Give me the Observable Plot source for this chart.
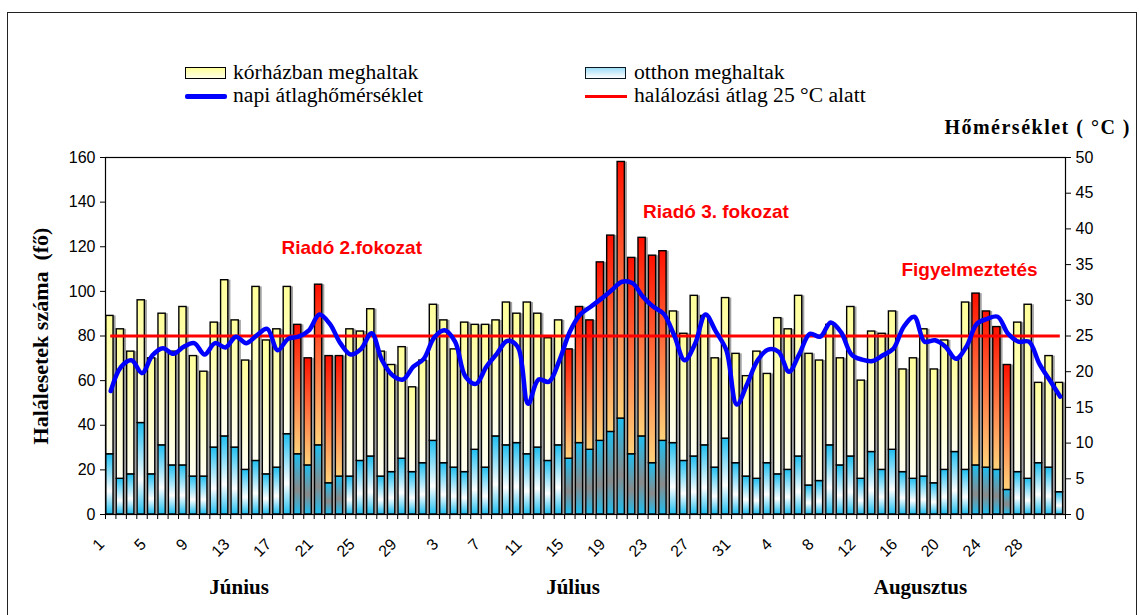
<!DOCTYPE html>
<html>
<head>
<meta charset="utf-8">
<script src="https://cdn.jsdelivr.net/npm/d3@7"></script>
<script src="https://cdn.jsdelivr.net/npm/@observablehq/plot@0.6"></script>
<style>
  body { margin: 0; background: #fff; }
  #wrap { position: relative; width: 1139px; height: 615px; overflow: hidden;
          font-family: "Liberation Serif", "Times New Roman", serif; color: #000; }
  #border { position: absolute; left: 7px; top: 12px; width: 1130px; height: 610px;
            border: 1.5px solid #222; box-sizing: border-box; pointer-events: none; }
  #head { position: relative; height: 140px; }
  .leg { position: absolute; font-size: 21.6px; line-height: 21px; white-space: nowrap; }
  .sw { position: absolute; box-sizing: border-box; }
  #rtitle { position: absolute; right: 8px; top: 117px; font-size: 20px; line-height: 20px;
            font-weight: bold; letter-spacing: 1.5px; white-space: nowrap; }
  #chart svg { display: block; }
</style>
</head>
<body>
<div id="wrap">
  <div id="head">
    <div class="sw" style="left:185px;top:67px;width:41px;height:12px;border:1.5px solid #000;background:linear-gradient(#ffff99,#ffffe6);"></div>
    <div class="leg" style="left:233px;top:62px;">kórházban meghaltak</div>
    <div class="sw" style="left:185px;top:94px;width:42px;height:4.5px;background:#0000ff;border-radius:2px;"></div>
    <div class="leg" style="left:233px;top:85px;">napi átlaghőmérséklet</div>
    <div class="sw" style="left:585px;top:67px;width:41px;height:12px;border:1.5px solid #0a1a24;background:linear-gradient(#9fdcf6,#ffffff);"></div>
    <div class="leg" style="left:634px;top:62px;">otthon meghaltak</div>
    <div class="sw" style="left:585px;top:95px;width:42px;height:3px;background:#ff0000;"></div>
    <div class="leg" style="left:634px;top:85px;">halálozási átlag 25 °C alatt</div>
    <div id="rtitle">Hőmérséklet ( °C )</div>
  </div>
  <div id="chart"></div>
  <div id="border"></div>
</div>
<script>
// ---- data (June 1 – August 31, one value per day) ----
const totalDeaths = [
  89, 83, 73, 96, 70, 90, 73, 93, 71, 64, 86, 105, 87, 69, 102, 78, 83, 102, 85, 70, 103, 71, 71, 83, 82, 92, 73, 67, 75, 57,
  69, 94, 87, 74, 86, 85, 85, 87, 95, 90, 95, 90, 79, 87, 74, 93, 87, 113, 125, 158, 115, 124, 116, 118, 91, 81, 98, 89, 70, 97, 72,
  62, 73, 63, 88, 83, 98, 72, 69, 85, 70, 93, 60, 82, 81, 91, 65, 70, 83, 65, 78, 70, 95, 99, 91, 84, 67, 86, 94, 59, 71, 59
];
const homeDeaths = [
  27, 16, 18, 41, 18, 31, 22, 22, 17, 17, 30, 35, 30, 20, 24, 18, 21, 36, 27, 22, 31, 14, 17, 17, 24, 26, 17, 19, 25, 19,
  23, 33, 23, 21, 19, 29, 21, 35, 31, 32, 27, 30, 24, 31, 25, 32, 29, 33, 37, 43, 27, 35, 23, 33, 32, 24, 26, 31, 21, 34, 23,
  17, 16, 23, 18, 20, 26, 13, 15, 31, 22, 26, 16, 28, 20, 29, 19, 16, 17, 14, 20, 28, 20, 22, 21, 20, 11, 19, 16, 23, 21, 10
];
const temperature = [
  17.3, 20.7, 21.6, 19.8, 22.3, 23.3, 22.5, 23.5, 24.0, 22.4, 24.0, 23.4, 24.9, 24.0, 25.1, 26.0, 23.0, 24.6, 24.9, 25.8,
  28.0, 26.7, 24.0, 22.4, 23.2, 25.4, 21.6, 19.5, 18.9, 20.7,
  21.8, 24.8, 25.8, 24.2, 19.3, 18.3, 20.7, 22.5, 24.3, 23.5, 15.5, 18.9, 18.6, 21.6, 25.6, 28.0, 29.1, 30.2, 31.4, 32.6,
  32.4, 30.5, 29.1, 28.1, 25.1, 21.6, 23.9, 28.0, 25.6, 23.0, 15.4,
  18.3, 21.6, 23.1, 22.8, 20.0, 22.5, 25.3, 24.9, 26.9, 25.5, 22.4, 21.7, 21.5, 22.3, 23.2, 26.3, 27.7, 24.2, 24.4, 23.5,
  21.8, 23.5, 26.7, 27.4, 27.7, 25.3, 24.2, 24.2, 21.1, 18.8, 16.5
];
// days on heat-alert (red bars): June 19–23, July 15–24, Aug 23–26 (day index 1..92)
const alertDays = [19, 20, 21, 22, 23, 45, 46, 47, 48, 49, 50, 51, 52, 53, 54, 84, 85, 86, 87];
const avgDeaths = 80;           // halálozási átlag 25 °C alatt
const labelDays = [1, 5, 9, 13, 17, 21, 25, 29, 33, 37, 41, 45, 49, 53, 57, 61, 65, 69, 73, 77, 81, 85, 89];
const tickLabels = ["1", "5", "9", "13", "17", "21", "25", "29", "3", "7", "11", "15", "19", "23", "27", "31", "4", "8", "12", "16", "20", "24", "28"];
const months = [
  {name: "Június", day: 13.3},
  {name: "Július", day: 45.3},
  {name: "Augusztus", day: 78.6}
];
const annotations = [
  {label: "Riadó 2.fokozat", day: 24.1, deaths: 119.5},
  {label: "Riadó 3. fokozat", day: 59.0, deaths: 135.5},
  {label: "Figyelmeztetés", day: 83.3, deaths: 109.5}
];
const yTitle = "Halálesetek száma  (fő)";

// ---- build ----
const days = d3.range(1, totalDeaths.length + 1);
const data = days.map((i, j) => ({
  i, total: totalDeaths[j], home: homeDeaths[j], temp: temperature[j], alert: alertDays.includes(i)
}));
const normal = data.filter(d => !d.alert);
const alert = data.filter(d => d.alert);
const k = 160 / 50; // right axis (°C) to left axis (deaths)
const dayTicks = labelDays.map((d, j) => ({day: d, label: tickLabels[j]}));

const barX = {x1: d => d.i - 0.5, x2: d => d.i + 0.5, insetLeft: 0.8, insetRight: 2.4};
const serif = "'Liberation Serif', 'Times New Roman', serif";
const sans = "'Liberation Sans', Arial, sans-serif";

const plot = Plot.plot({
  width: 1139,
  height: 475,
  marginTop: 17,
  marginBottom: 101,
  marginLeft: 105,
  marginRight: 74,
  x: {domain: [0.5, days.length + 0.5]},
  y: {domain: [0, 160]},
  style: {fontFamily: sans, fontSize: "16px", color: "#000", background: "transparent", overflow: "visible"},
  marks: [
    // bar shadows
    Plot.rectY(data, {...barX, y1: 0, y2: "total", dx: 2.6, fill: "#a2a2a2"}),
    // normal days
    Plot.rectY(normal, {...barX, y1: 0, y2: "home", fill: "url(#gBlue)", stroke: "#000", strokeWidth: 1.4}),
    Plot.rectY(normal, {...barX, y1: "home", y2: "total", fill: "url(#gYellow)", stroke: "#000", strokeWidth: 1.4}),
    // alert days
    Plot.rectY(alert, {...barX, y1: 0, y2: "home", fill: "url(#gBlueDark)", stroke: "#000", strokeWidth: 1.4}),
    Plot.rectY(alert, {...barX, y1: "home", y2: "total", fill: "url(#gRed)", stroke: "#000", strokeWidth: 1.4}),
    // average line
    Plot.ruleY([avgDeaths], {x1: days[0], x2: days[days.length - 1], stroke: "#ff0000", strokeWidth: 3}),
    // temperature
    Plot.line(data, {x: "i", y: d => d.temp * k, stroke: "#0000ff", strokeWidth: 4.5, curve: "catmull-rom", strokeLinejoin: "round", strokeLinecap: "round"}),
    Plot.frame({stroke: "#000", strokeWidth: 1.2}),
    // axes
    Plot.axisY({ticks: d3.range(0, 161, 20), tickSize: 5, tickPadding: 5, label: null, fontSize: 16}),
    Plot.axisY({anchor: "right", ticks: d3.range(0, 161, 16), tickFormat: d => String(Math.round(d / k)), tickSize: 5, tickPadding: 5, label: null, fontSize: 16}),
    Plot.axisX({ticks: d3.range(0.5, days.length + 1, 1), tickSize: 5, tickFormat: () => "", label: null}),
    // rotated day labels
    Plot.text(dayTicks, {x: "day", text: "label", frameAnchor: "bottom", rotate: -45, textAnchor: "end", lineAnchor: "middle", dx: -9, dy: 27, fontSize: 16, fontFamily: sans, fill: "#000"}),
    // month names
    Plot.text(months, {x: "day", text: "name", frameAnchor: "bottom", dy: 79, fontFamily: serif, fontWeight: "bold", fontSize: 21, fill: "#000"}),
    // y title
    Plot.text([yTitle], {frameAnchor: "left", textAnchor: "middle", dx: -65, rotate: -90, fontFamily: serif, fontWeight: "bold", fontSize: 22, fill: "#000"}),
    // alert annotations
    Plot.text(annotations, {x: "day", y: "deaths", text: "label", fill: "#ff0000", fontWeight: "bold", fontSize: 19, fontFamily: sans})
  ]
});

// gradient definitions used by the bars
const svg = d3.select(plot);
const defs = svg.insert("defs", ":first-child");
function grad(id, stops) {
  const g = defs.append("linearGradient").attr("id", id).attr("x1", 0).attr("y1", 0).attr("x2", 0).attr("y2", 1);
  stops.forEach(([o, c]) => g.append("stop").attr("offset", o).attr("stop-color", c));
}
grad("gYellow", [[0, "#ffff99"], [0.5, "#ffffc8"], [1, "#fffff2"]]);
grad("gBlue", [[0, "#1ebef0"], [0.62, "#ffffff"], [1, "#1ebef0"]]);
grad("gBlueDark", [[0, "#1ebef0"], [0.6, "#8a8a8a"], [1, "#1ebef0"]]);
grad("gRed", [[0, "#ff1000"], [0.45, "#ff6a3a"], [0.8, "#ffae66"], [1, "#ffd27a"]]);

document.getElementById("chart").appendChild(plot);
</script>
</body>
</html>
